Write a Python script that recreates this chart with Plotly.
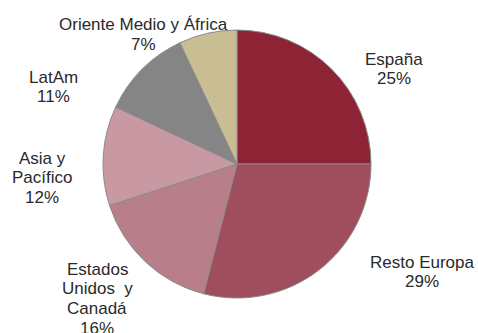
import plotly.graph_objects as go

labels = ["España", "Resto Europa", "Estados Unidos y Canadá", "Asia y Pacífico", "LatAm", "Oriente Medio y África"]
values = [25, 29, 16, 12, 11, 7]
label_lines = [["España"], ["Resto Europa"], ["Estados", "Unidos  y", "Canadá"], ["Asia y", "Pacífico"], ["LatAm"], ["Oriente Medio y África"]]
colors = ["#8E2335", "#A04D5E", "#B87F8B", "#C999A3", "#858585", "#C8BD93"]

W, H = 478, 333
# label centre x and first-line centre y, in pixels
label_pos = [(394, 59), (422, 262), (97, 269), (42, 158), (53, 77), (143, 25)]
pitch = 19.7

fig = go.Figure(go.Pie(
    labels=labels, values=values, sort=False, direction="clockwise", rotation=0,
    marker=dict(colors=colors, line=dict(color="#8a8a8a", width=1)),
    textinfo="none", hoverinfo="label+percent", showlegend=False,
    domain=dict(x=[103 / W, 371 / W], y=[(H - 298) / H, (H - 30) / H]),
))

annotations = []
for lines, v, (px, py) in zip(label_lines, values, label_pos):
    for i, t in enumerate(lines + [f"{v}%"]):
        annotations.append(dict(
            text=t, x=px / W, y=1 - (py + i * pitch) / H, xref="paper", yref="paper",
            xanchor="center", yanchor="middle", showarrow=False, align="center",
            font=dict(family="Liberation Sans, Arial, sans-serif", size=17, color="#2a2a2a"),
        ))

fig.update_layout(
    width=W, height=H, margin=dict(l=0, r=0, t=0, b=0),
    paper_bgcolor="white", plot_bgcolor="white", annotations=annotations,
)
fig.write_html("out.html")
